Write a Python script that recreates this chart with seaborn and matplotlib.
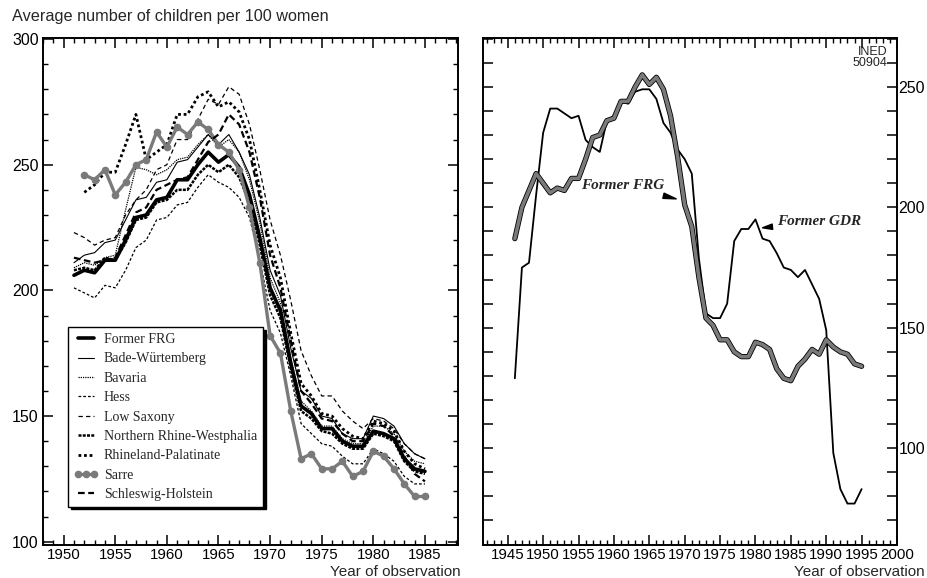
#!/usr/bin/env python3
"""
Total fertility in the Laender of former FRG (left) and former FRG vs GDR (right).
Writes out.png
"""

import pandas as pd
import matplotlib
matplotlib.use('Agg')
import matplotlib.pyplot as plt
from matplotlib.ticker import MultipleLocator, FuncFormatter
import seaborn as sns


# --- data (average number of children per 100 women) ---
YEARS_FULL = list(range(1946, 1996))
YEARS_LEFT = list(range(1951, 1986))
YEARS_LATE = list(range(1952, 1986))

FRG = [187, 200, 207, 214, 210, 206, 208, 207, 212, 212,
       220, 229, 230, 236, 237, 244, 244, 250, 255, 251,
       254, 249, 238, 221, 201, 192, 171, 154, 151, 145,
       145, 140, 138, 138, 144, 143, 141, 133, 129, 128,
       134, 137, 141, 139, 145, 142, 140, 139, 135, 134]

GDR = [129, 175, 177, 205, 231, 241, 241, 239, 237, 238,
       228, 225, 223, 236, 238, 244, 243, 248, 249, 249,
       245, 235, 231, 224, 220, 214, 179, 156, 154, 154,
       160, 186, 191, 191, 195, 187, 186, 181, 175, 174,
       171, 174, 168, 162, 149, 98, 83, 77, 77, 83]

BADE = [211, 214, 215, 219, 220, 228, 236, 237, 243, 244,
        251, 252, 257, 262, 258, 262, 255, 246, 229, 208,
        198, 177, 160, 157, 150, 149, 143, 141, 141, 150,
        149, 146, 139, 135, 133]

BAVARIA = [209, 211, 210, 213, 214, 232, 249, 248, 246, 248,
           252, 253, 258, 262, 257, 260, 255, 244, 227, 205,
           195, 173, 156, 152, 146, 146, 141, 139, 139, 146,
           146, 143, 136, 132, 131]

HESS = [201, 199, 197, 202, 201, 208, 217, 220, 228, 229,
        234, 235, 241, 246, 243, 241, 237, 229, 212, 192,
        183, 166, 147, 143, 139, 138, 134, 131, 131, 137,
        135, 132, 126, 123, 123]

LOW_SAXONY = [223, 221, 218, 220, 221, 230, 236, 240, 248, 250,
              260, 260, 268, 276, 274, 281, 278, 266, 248, 228,
              214, 196, 176, 166, 158, 158, 152, 148, 145, 149,
              148, 145, 139, 135, 133]

NRW = [208, 209, 208, 213, 212, 219, 228, 229, 235, 236,
       240, 240, 246, 250, 247, 250, 245, 235, 218, 198,
       189, 169, 152, 149, 144, 143, 139, 137, 137, 143,
       142, 140, 132, 128, 127]

SCHLESWIG = [213, 212, 211, 212, 213, 222, 231, 233, 240, 242,
             244, 245, 252, 259, 262, 270, 266, 255, 237, 214,
             201, 180, 160, 155, 149, 148, 143, 140, 140, 147,
             146, 142, 134, 127, 124]

# series starting in 1952
RHINELAND = [239, 242, 247, 247, 258, 270, 252, 255, 258, 270,
             270, 277, 279, 273, 275, 271, 260, 240, 218, 205,
             183, 163, 158, 151, 150, 145, 142, 141, 148, 147,
             144, 136, 131, 129]

SARRE = [246, 244, 248, 238, 243, 250, 252, 263, 257, 265,
         262, 267, 264, 258, 255, 248, 233, 211, 182, 175,
         152, 133, 135, 129, 129, 132, 126, 128, 136, 134,
         129, 123, 118, 118]

GREY = '#7a7a7a'


def style_axes(ax):
    for s in ax.spines.values():
        s.set_linewidth(1.4)
        s.set_color('black')
    ax.set_xlabel('')
    ax.set_ylabel('')
    ax.tick_params(which='both', direction='in', top=True, right=True,
                   colors='black', width=1.1, labelsize=11.5, pad=3)
    ax.tick_params(axis='x', labelsize=10.8, pad=2)
    ax.tick_params(which='major', length=7)
    ax.grid(False)


def label_50(v, pos):
    return f'{int(round(v))}' if round(v) % 50 == 0 else ''


def main():
    sns.set_style('ticks')
    plt.rcParams['font.family'] = ['Liberation Sans', 'DejaVu Sans']

    fig = plt.figure(figsize=(9.27, 5.78), dpi=100)
    ax1 = fig.add_axes([43 / 927, 33 / 578, 415 / 927, 507 / 578])
    ax2 = fig.add_axes([483 / 927, 33 / 578, 414 / 927, 507 / 578])

    # --- left panel: Laender ---
    left = pd.DataFrame({'year': YEARS_LEFT, 'FRG': FRG[5:40],
                         'BADE': BADE, 'BAVARIA': BAVARIA, 'HESS': HESS,
                         'LOW': LOW_SAXONY, 'NRW': NRW, 'SH': SCHLESWIG})
    late = pd.DataFrame({'year': YEARS_LATE, 'RP': RHINELAND, 'SARRE': SARRE})

    specs = [
        (left, 'FRG', 'Former FRG', dict(color='black', lw=2.6, ls='-')),
        (left, 'BADE', 'Bade-Würtemberg', dict(color='black', lw=0.8, ls='-')),
        (left, 'BAVARIA', 'Bavaria', dict(color='black', lw=0.9, ls=(0, (1, 0.8)))),
        (left, 'HESS', 'Hess', dict(color='black', lw=0.9, ls=(0, (2.2, 1.6)))),
        (left, 'LOW', 'Low Saxony', dict(color='black', lw=0.9, ls=(0, (3.5, 2.5)))),
        (left, 'NRW', 'Northern Rhine-Westphalia', dict(color='black', lw=1.8, ls=(0, (1.2, 0.5)))),
        (late, 'RP', 'Rhineland-Palatinate', dict(color='black', lw=2.0, ls=(0, (1, 1)))),
        (late, 'SARRE', 'Sarre', dict(color=GREY, lw=2.4, ls='-', marker='o',
                                      markersize=5.5, markeredgewidth=0)),
        (left, 'SH', 'Schleswig-Holstein', dict(color='black', lw=1.6, ls=(0, (3, 1.6)))),
    ]
    for df, col, name, kw in specs:
        sns.lineplot(data=df, x='year', y=col, ax=ax1, label=name, legend=False, **kw)

    ax1.set_xlim(1948, 1988.2)
    ax1.set_ylim(98.7, 300.4)
    ax1.xaxis.set_major_locator(MultipleLocator(5))
    ax1.xaxis.set_minor_locator(MultipleLocator(1))
    ax1.yaxis.set_major_locator(MultipleLocator(50))
    ax1.yaxis.set_minor_locator(MultipleLocator(10))
    style_axes(ax1)
    ax1.tick_params(which='minor', length=3.5, width=1.0)

    handles, labels = ax1.get_legend_handles_labels()
    leg = ax1.legend(handles, labels, loc='upper left',
                     bbox_to_anchor=(0.06, 0.429), borderaxespad=0,
                     prop={'family': 'Liberation Serif', 'size': 10},
                     frameon=True, fancybox=False, edgecolor='black',
                     shadow={'color': 'black', 'alpha': 1, 'ox': 2, 'oy': -2},
                     handlelength=1.8, handletextpad=0.4, labelspacing=0.46,
                     numpoints=3, borderpad=0.4)
    leg.get_frame().set_linewidth(1.0)

    # --- right panel: FRG vs GDR ---
    right = pd.DataFrame({'year': YEARS_FULL, 'FRG': FRG, 'GDR': GDR})
    sns.lineplot(data=right, x='year', y='GDR', ax=ax2, color='black', lw=1.3)
    sns.lineplot(data=right, x='year', y='FRG', ax=ax2, color='black', lw=3.8)
    sns.lineplot(data=right, x='year', y='FRG', ax=ax2, color=GREY, lw=2.6)

    ax2.set_xlim(1941.5, 2000)
    ax2.set_ylim(59.8, 270.3)
    ax2.xaxis.set_major_locator(MultipleLocator(5))
    ax2.xaxis.set_minor_locator(MultipleLocator(1))
    ax2.yaxis.set_major_locator(MultipleLocator(10))
    ax2.yaxis.set_major_formatter(FuncFormatter(label_50))
    style_axes(ax2)
    ax2.tick_params(which='minor', length=3.5, width=1.0)
    ax2.tick_params(axis='y', labelleft=False, labelright=True, pad=1)

    arrow = dict(arrowstyle='wedge,tail_width=0.35,shrink_factor=0.5',
                 color='black', shrinkA=1, shrinkB=0)
    ax2.annotate('Former FRG', xy=(1968.8, 203.5), xytext=(1961.2, 209),
                 ha='center', va='center', fontsize=11,
                 family='Liberation Serif', weight='bold', style='italic',
                 arrowprops=arrow)
    ax2.annotate('Former GDR', xy=(1981.0, 191.5), xytext=(1989.0, 194),
                 ha='center', va='center', fontsize=11,
                 family='Liberation Serif', weight='bold', style='italic',
                 arrowprops=arrow)
    ax2.text(0.976, 0.985, 'INED\n50904', transform=ax2.transAxes,
             ha='right', va='top', fontsize=9, linespacing=0.95)

    # --- figure texts ---
    fig.text(12 / 927, 1 - 17 / 578, 'Average number of children per 100 women',
             ha='left', va='center', fontsize=11.7)
    fig.text(461 / 927, 1 - 572 / 578, 'Year of observation',
             ha='right', va='center', fontsize=11)
    fig.text(925 / 927, 1 - 572 / 578, 'Year of observation',
             ha='right', va='center', fontsize=11)

    fig.savefig('out.png', dpi=100)
    plt.close(fig)


if __name__ == '__main__':
    main()
